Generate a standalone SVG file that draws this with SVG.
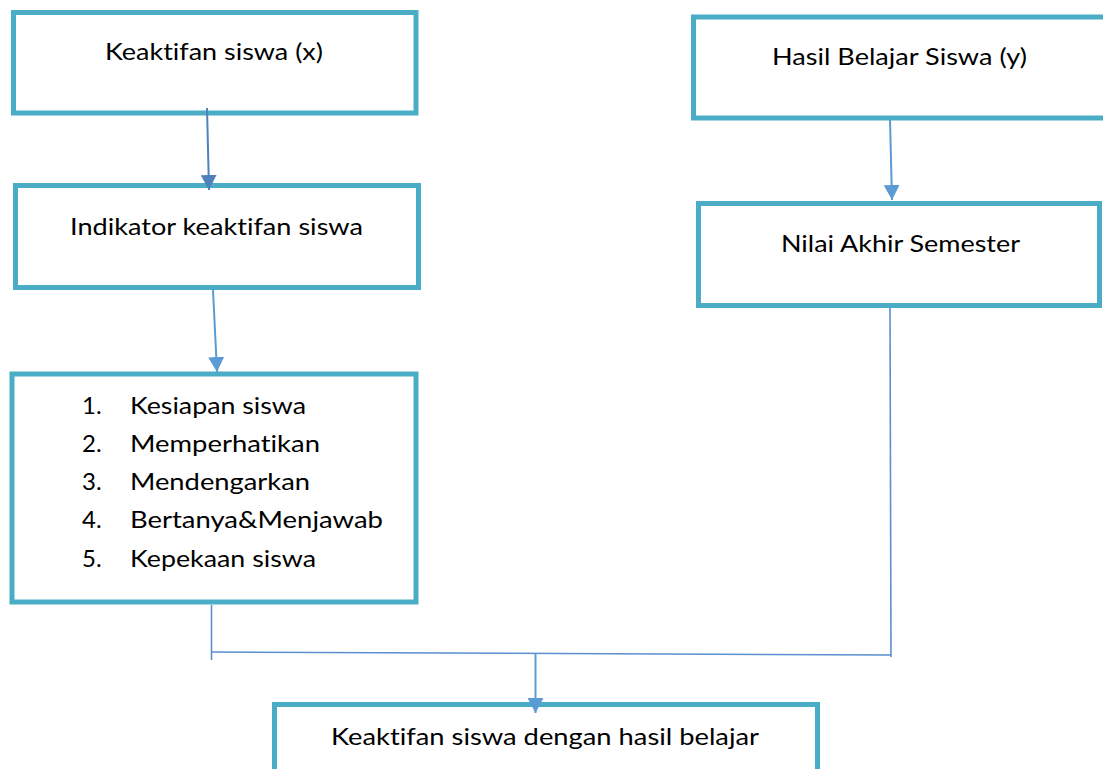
<svg xmlns="http://www.w3.org/2000/svg" width="1103" height="769" viewBox="0 0 1103 769">
<style>
.box{fill:#fff;stroke:#4bacc6;stroke-width:5}
.t{font-family:Lato,"Liberation Sans",sans-serif;font-size:24px;fill:#000;font-variant-ligatures:none}
.c1{stroke:#4f81bd;stroke-width:2;fill:none}
.c2{stroke:#5b9bd5;stroke-width:2;fill:none}
.c3{stroke:#5b8fd0;stroke-width:1.6;fill:none}
</style>
<defs>
<marker id="ah1" markerUnits="userSpaceOnUse" markerWidth="16" markerHeight="16" refX="15" refY="8" orient="auto">
<path d="M0,0 L15,8 L0,16 Z" fill="#4f81bd"/>
</marker>
<marker id="ah2" markerUnits="userSpaceOnUse" markerWidth="16" markerHeight="16" refX="15" refY="8" orient="auto">
<path d="M0,0 L15,8 L0,16 Z" fill="#5b9bd5"/>
</marker>
</defs>
<rect width="1103" height="769" fill="#fff"/>
<g id="node-keaktifan">
<rect class="box" x="13.5" y="12.5" width="402.5" height="100.5"/>
<text class="t" x="105" y="60" textLength="218" lengthAdjust="spacingAndGlyphs">Keaktifan siswa (x)</text>
</g>
<g id="node-indikator">
<rect class="box" x="15.5" y="185.5" width="403" height="102"/>
<text class="t" x="70" y="235" textLength="293" lengthAdjust="spacingAndGlyphs">Indikator keaktifan siswa</text>
</g>
<g id="node-list">
<rect class="box" x="12" y="374" width="404" height="228"/>
<text class="t" x="82" y="414">1.</text>
<text class="t" x="130" y="414" textLength="176" lengthAdjust="spacingAndGlyphs">Kesiapan siswa</text>
<text class="t" x="82" y="452">2.</text>
<text class="t" x="130" y="452" textLength="190" lengthAdjust="spacingAndGlyphs">Memperhatikan</text>
<text class="t" x="82" y="490">3.</text>
<text class="t" x="130" y="490" textLength="180" lengthAdjust="spacingAndGlyphs">Mendengarkan</text>
<text class="t" x="82" y="528">4.</text>
<text class="t" x="130" y="528" textLength="253" lengthAdjust="spacingAndGlyphs">Bertanya&amp;Menjawab</text>
<text class="t" x="82" y="567">5.</text>
<text class="t" x="130" y="567" textLength="186" lengthAdjust="spacingAndGlyphs">Kepekaan siswa</text>
</g>
<g id="node-hasil">
<rect class="box" x="693.5" y="17" width="420" height="101"/>
<text class="t" x="772" y="65" textLength="255" lengthAdjust="spacingAndGlyphs">Hasil Belajar Siswa (y)</text>
</g>
<g id="node-nilai">
<rect class="box" x="698.5" y="203.5" width="401" height="102"/>
<text class="t" x="781" y="252" textLength="239" lengthAdjust="spacingAndGlyphs">Nilai Akhir Semester</text>
</g>
<g id="node-hubungan">
<rect class="box" x="274.5" y="704.5" width="543" height="90"/>
<text class="t" x="331" y="745" textLength="428" lengthAdjust="spacingAndGlyphs">Keaktifan siswa dengan hasil belajar</text>
</g>
<g id="connectors">
<line class="c1" x1="207" y1="108" x2="209" y2="190" marker-end="url(#ah1)"/>
<line class="c2" x1="890" y1="120" x2="892" y2="200" marker-end="url(#ah2)"/>
<line class="c2" x1="213" y1="290" x2="217" y2="372" marker-end="url(#ah2)"/>
<line class="c3" x1="211.5" y1="605" x2="211.5" y2="660"/>
<line class="c3" x1="890" y1="308" x2="891" y2="657"/>
<line class="c3" x1="211" y1="652" x2="891" y2="655"/>
<line class="c2" x1="535.5" y1="653" x2="535.5" y2="713" marker-end="url(#ah2)"/>
</g>
</svg>
